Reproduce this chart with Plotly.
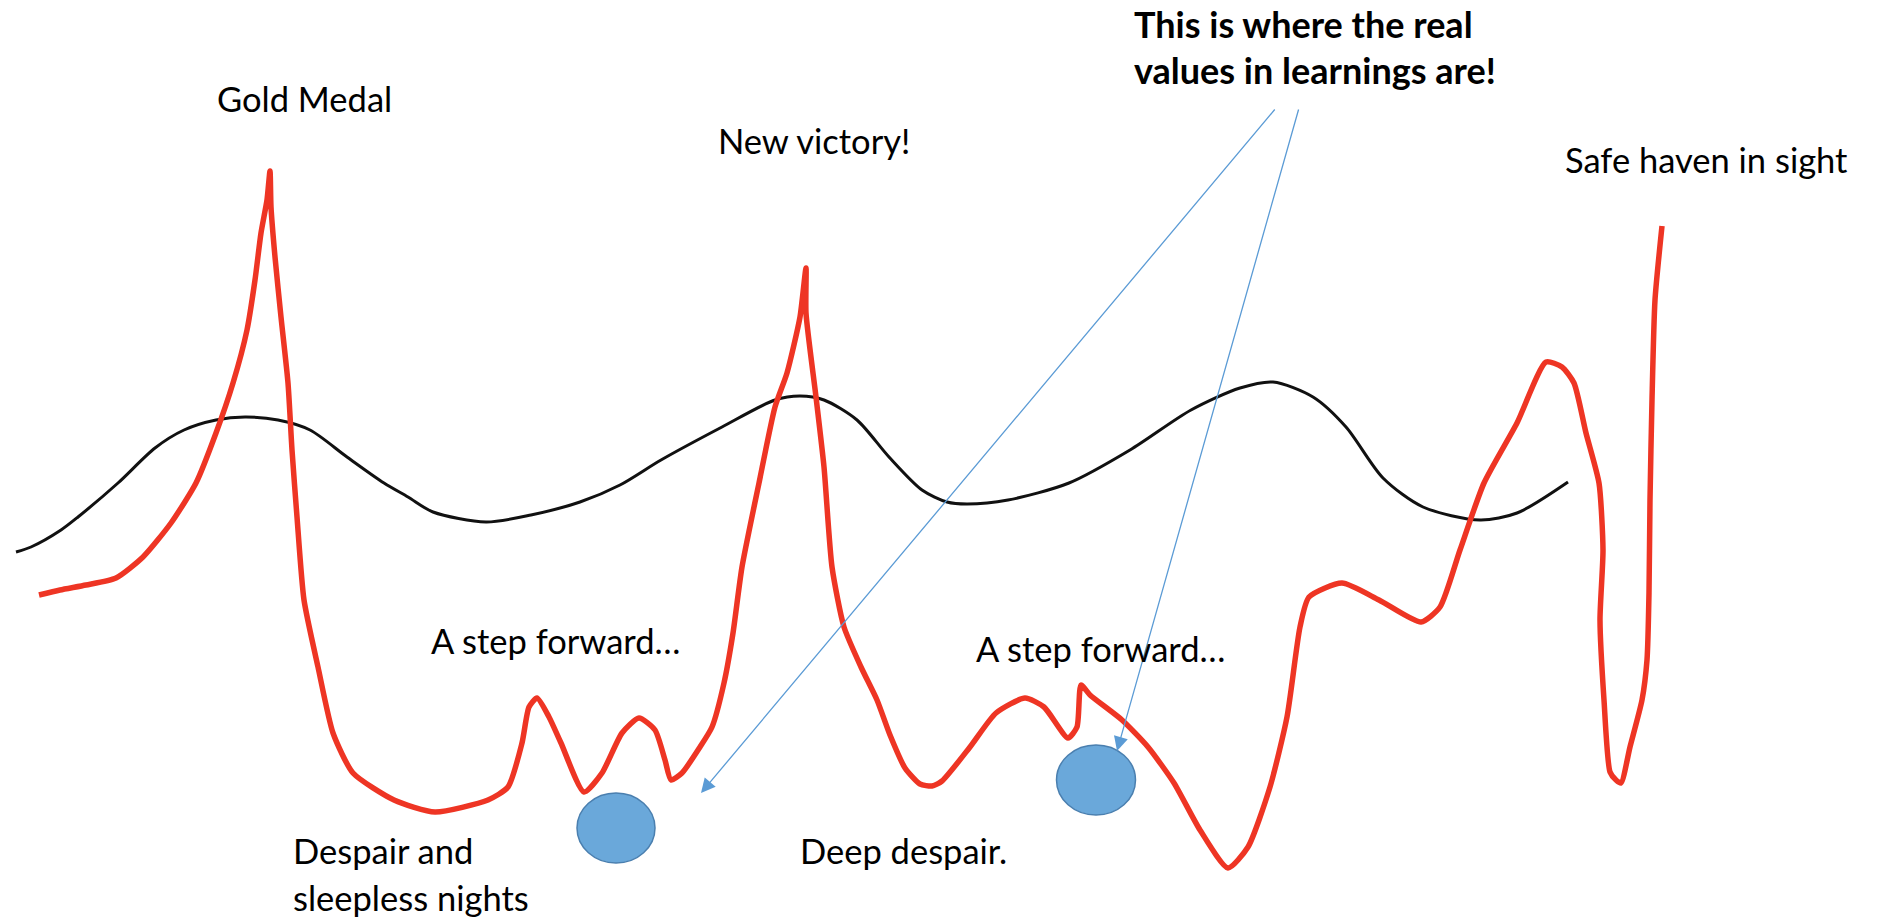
import plotly.graph_objects as go

# ---- data (sketch coordinates: x = progress, y = screen depth, smaller = higher) ----
struggle_x = [39, 60, 86, 116, 143, 171, 196, 216, 233, 247, 255, 261, 267, 270,
              271, 275, 281, 288, 292, 297, 304, 318, 333, 353, 394, 435, 488, 508, 522, 529,
              537, 549, 561, 584, 602, 622, 639, 655, 665, 671, 682, 700, 712, 724, 733, 742,
              759, 775, 787, 800, 806,
              806, 816, 824, 832, 844, 861, 877, 890, 905, 920, 932, 942, 970, 996, 1025, 1044,
              1068, 1077, 1081, 1090, 1122, 1148, 1174, 1200, 1228, 1248, 1270, 1287, 1300, 1309,
              1342, 1379, 1421, 1440, 1460, 1484, 1517, 1546, 1562, 1574, 1586, 1599, 1603, 1600,
              1604, 1610, 1616, 1621, 1630, 1642, 1647, 1649, 1650, 1652, 1655, 1662]
struggle_y = [595, 590, 585, 578, 557, 523, 483, 433, 383, 330, 280, 233, 200, 171,
              207, 257, 317, 383, 450, 517, 600, 667, 733, 773, 800, 812, 800, 787, 743, 707,
              698, 717, 743, 792, 773, 733, 718, 730, 760, 780, 773, 747, 727, 683, 633, 567,
              483, 407, 373, 317, 268,
              313, 397, 467, 567, 627, 667, 700, 735, 768, 784, 786, 781, 747, 713, 698, 707,
              738, 727, 685, 695, 720, 747, 783, 830, 868, 847, 787, 717, 627, 597,
              583, 600, 622, 607, 550, 483, 423, 362, 367, 383, 433, 483, 550, 620,
              700, 772, 780, 783, 747, 700, 660, 593, 500, 400, 300, 226]

trend_x = [16, 31, 61, 78, 118, 155, 184, 216, 245, 278, 310, 347, 384, 408, 433, 486, 531,
           580, 620, 661, 722, 775, 800, 824, 857, 889, 922, 947, 967, 1008, 1069, 1130, 1191,
           1240, 1273, 1313, 1346, 1383, 1423, 1480, 1517, 1568]
trend_y = [552, 547, 530, 517, 483, 448, 430, 420, 417, 420, 430, 457, 483, 497, 512, 522, 515,
           502, 485, 460, 427, 400, 396, 400, 420, 457, 490, 502, 504, 500, 483, 450, 410,
           388, 382, 397, 427, 478, 507, 520, 513, 482]

bubble_x = [616, 1096]
bubble_y = [828, 780]
bubble_rx = [39, 39.5]
bubble_ry = [35, 35]

arrow_from_x = [1276, 1299]
arrow_from_y = [108, 108]
arrow_to_x = [701, 1117]
arrow_to_y = [793, 751]

labels = ["Gold Medal", "New victory!", "Safe haven in sight", "A step forward…",
          "A step forward…", "Despair and", "sleepless nights", "Deep despair."]
callout = ["This is where the real", "values in learnings are!"]

assert len(struggle_x) == len(struggle_y)
assert len(trend_x) == len(trend_y)

W, H = 1879, 919
FONT = "Lato, 'Open Sans', sans-serif"

fig = go.Figure()
fig.add_trace(go.Scatter(x=trend_x, y=trend_y, mode="lines",
                         line=dict(color="#111111", width=3, shape="spline", smoothing=0.8),
                         hoverinfo="skip", showlegend=False))
fig.add_trace(go.Scatter(x=struggle_x, y=struggle_y, mode="lines",
                         line=dict(color="#EE3524", width=5.5, shape="spline", smoothing=0.6),
                         hoverinfo="skip", showlegend=False))

for cx, cy, rx, ry in zip(bubble_x, bubble_y, bubble_rx, bubble_ry):
    fig.add_shape(type="circle", xref="x", yref="y",
                  x0=cx - rx, x1=cx + rx, y0=cy - ry, y1=cy + ry,
                  fillcolor="#6AA8DA", line=dict(color="#4A7FAF", width=1.5), layer="above")

for fx, fy, tx, ty in zip(arrow_from_x, arrow_from_y, arrow_to_x, arrow_to_y):
    fig.add_annotation(x=tx, y=ty, ax=fx, ay=fy, xref="x", yref="y", axref="x", ayref="y",
                       text="", showarrow=True, arrowhead=2, arrowsize=2.2, arrowwidth=1.3,
                       arrowcolor="#5B9BD5")

text_pos = [  # (x, y, xanchor)
    (304, 98, "center"),
    (814, 140, "center"),
    (1563, 159, "left"),
    (429, 640, "left"),
    (974, 648, "left"),
    (291, 850, "left"),
    (291, 897, "left"),
    (798, 850, "left"),
]
for t, (x, y, xa) in zip(labels, text_pos):
    fig.add_annotation(x=x, y=y, xref="x", yref="y", text=t, showarrow=False,
                       xanchor=xa, yanchor="middle",
                       font=dict(family=FONT, size=34.5, color="#000000"))

for t, y in zip(callout, [24, 70]):
    fig.add_annotation(x=1132, y=y, xref="x", yref="y", text="<b>" + t + "</b>",
                       showarrow=False, xanchor="left", yanchor="middle",
                       font=dict(family=FONT, size=36, color="#000000"))

fig.update_layout(width=W, height=H, margin=dict(l=0, r=0, t=0, b=0),
                  paper_bgcolor="white", plot_bgcolor="white")
fig.update_xaxes(range=[0, W], visible=False, fixedrange=True)
fig.update_yaxes(range=[H, 0], visible=False, fixedrange=True)

fig.write_html("out.html", config={"displayModeBar": False},
               post_script="document.body.style.margin='0px';document.body.style.overflow='hidden';")
